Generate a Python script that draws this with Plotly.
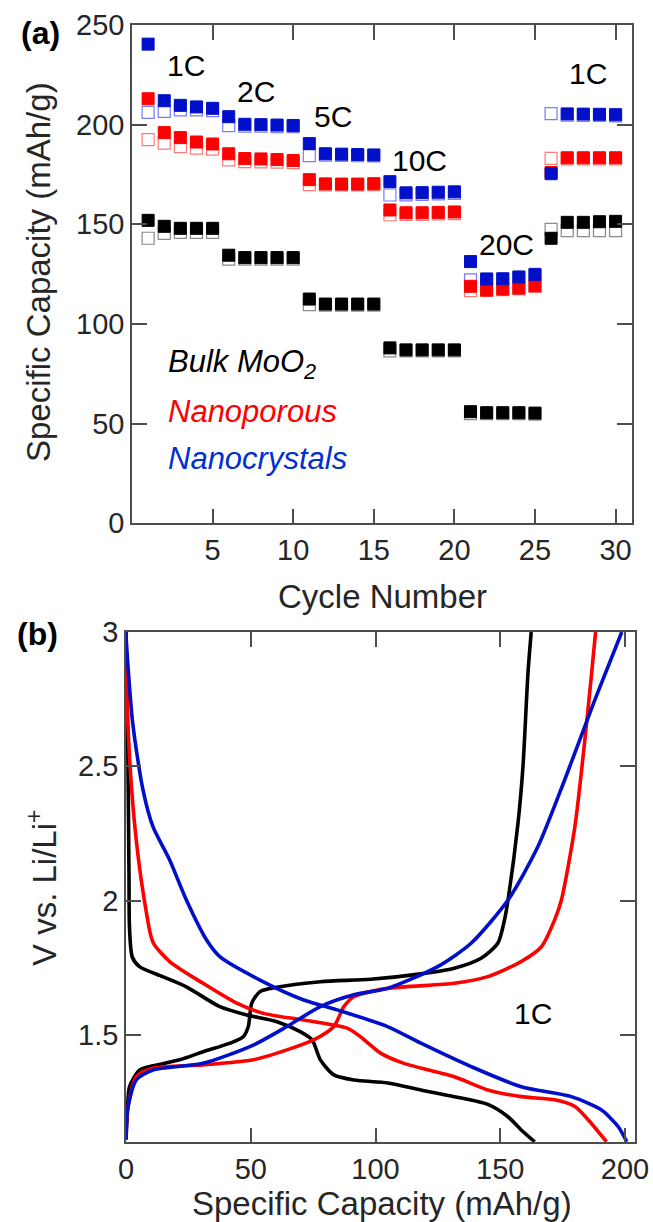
import plotly.graph_objects as go

W, H = 653, 1222

# ---------------- Panel (a) data: rate capability ----------------
cycles = list(range(1, 31))
bulk_filled = [152, 149, 148, 148, 148, 134.5, 133.3, 133.3, 133.3, 133.3,
               112.5, 110, 110, 110, 110, 88, 87, 87, 87, 87,
               56, 55.5, 55.5, 55.5, 55.3, 143, 151, 151, 151.3, 151.5]
bulk_open = [143, 145.5, 146, 146, 146, 132.5, 132.5, 132.5, 132.5, 132.5,
             109.7, 109.5, 109.5, 109.5, 109.5, 86.5, 86.5, 86.5, 86.5, 86.5,
             55, 55, 55, 55, 54.8, 147.5, 146.8, 146.8, 146.8, 146.8]
nanoporous_filled = [213, 196, 193.5, 191.3, 190.3, 185.4, 183, 182.8, 182.5, 182,
                     172.4, 170.3, 170.2, 170.2, 170.4, 157.2, 155.8, 155.8, 156, 156.2,
                     118.9, 117, 117.5, 118, 119.2, 176, 183.4, 183.4, 183.4, 183.4]
nanoporous_open = [192.5, 190.7, 189, 188.2, 187.7, 182.3, 181.5, 181.3, 181.2, 181,
                   169.9, 169.8, 169.8, 169.8, 169.9, 154.8, 155, 155, 155.2, 155.4,
                   116.7, 116.8, 117.2, 117.7, 118.9, 183.1, 182.8, 182.8, 182.8, 182.8]
nanocrystals_filled = [240.4, 212, 209.7, 208.9, 208.2, 204, 200.2, 200, 199.8, 199.6,
                       190.5, 185.4, 185.2, 185, 184.8, 171.4, 165.8, 165.9, 166.1, 166.3,
                       131.3, 122.6, 122.7, 123.6, 124.9, 175.4, 205.4, 205.3, 205.2, 205]
nanocrystals_open = [206.2, 206.7, 207.4, 207.4, 207, 199.5, 199.3, 199.2, 199, 199,
                     184.5, 184.7, 184.6, 184.4, 184.3, 164.7, 164.8, 165, 165.3, 165.5,
                     122.1, 122, 122.2, 123, 124.3, 205.5, 204.8, 204.6, 204.6, 204.4]

rate_labels = ["1C", "2C", "5C", "10C", "20C", "1C"]
series_names = ["Bulk MoO<sub>2</sub>", "Nanoporous", "Nanocrystals"]

# ---------------- Panel (b) data: voltage profiles at 1C ----------------
bulk_dis_cap = [0, 0.5, 0.9, 1.2, 1.4, 2.5, 5.4, 14.7, 24.2, 37.6, 48.4, 60.5, 69.8, 74.6,
                77.9, 83.3, 91.3, 104.8, 118.2, 131.6, 145, 153.1, 158.4, 163.8]
bulk_dis_v = [3.0, 2.75, 2.4, 2.1, 1.9, 1.79, 1.754, 1.717, 1.679, 1.605, 1.574, 1.549, 1.512, 1.481,
              1.407, 1.351, 1.332, 1.321, 1.295, 1.270, 1.241, 1.195, 1.146, 1.102]
bulk_chg_cap = [0, 0.5, 1.4, 5.4, 10.8, 21.5, 30.9, 41.7, 47, 49, 50.4, 53.7, 60.5, 77.9,
                98, 118.2, 131.6, 142.3, 149, 151.7, 153.1, 157.1, 159.1, 161.1, 162.4]
bulk_chg_v = [1.11, 1.2, 1.307, 1.369, 1.385, 1.407, 1.437, 1.469, 1.493, 1.530, 1.618, 1.661, 1.677, 1.698,
              1.707, 1.727, 1.748, 1.785, 1.841, 1.928, 2.002, 2.288, 2.499, 2.846, 3.0]

nano_p_dis_cap = [0, 0.1, 1.4, 4.1, 8.1, 10.8, 17.5, 30.9, 44.4, 55.1, 71.2, 88.6, 94, 102,
                  111.4, 131.6, 145, 158.4, 171.8, 179.9, 185.3, 192.6]
nano_p_dis_v = [3.0, 2.87, 2.536, 2.226, 1.96, 1.845, 1.773, 1.692, 1.618, 1.580, 1.555, 1.525, 1.493, 1.432,
                1.394, 1.344, 1.295, 1.270, 1.258, 1.233, 1.183, 1.102]
nano_p_chg_cap = [0, 0.6, 4.1, 10.8, 30.9, 51, 64.5, 75.2, 83.3, 87.3, 91.3, 104.8, 131.6, 145,
                  158.4, 166.5, 171.8, 174.5, 179.9, 183.9, 186.6, 188.2]
nano_p_chg_v = [1.11, 1.22, 1.344, 1.376, 1.388, 1.407, 1.444, 1.481, 1.531, 1.605, 1.642, 1.673, 1.692, 1.717,
                1.773, 1.828, 1.928, 2.002, 2.275, 2.598, 2.846, 3.0]

nano_c_dis_cap = [0, 0.1, 2.7, 6.8, 10.8, 17.5, 24.2, 32.3, 37.6, 53.7, 71.2, 84.6, 104.8, 118.2,
                  138.3, 158.4, 178.5, 190.6, 197.3, 200.7]
nano_c_dis_v = [3.0, 2.97, 2.66, 2.412, 2.275, 2.151, 2.002, 1.853, 1.791, 1.704, 1.630, 1.593, 1.531, 1.469,
                1.382, 1.307, 1.270, 1.220, 1.158, 1.102]
nano_c_chg_cap = [0, 0.6, 4.1, 10.8, 30.9, 51, 64.5, 77.9, 91.3, 104.8, 124.9, 138.3, 153.1, 165.1,
                  175.8, 187.9, 198.7]
nano_c_chg_v = [1.11, 1.22, 1.332, 1.369, 1.394, 1.462, 1.531, 1.605, 1.649, 1.673, 1.754, 1.841, 2.002, 2.201,
                2.449, 2.747, 3.0]

# ---------------- styling ----------------
BLACK = "#000000"
RED = "#ff0000"
BLUE = "#0010c8"
BLUE_TXT = "#0030d0"
FONT = "Liberation Sans"
AXC = "#4d4d4d"
TICKC = "#262626"


def px(x):
    return x / W


def py(y):
    return 1 - y / H


fig = go.Figure()

open_edges = ["#8a8a8a", "#ff7a7a", "#7a7aff"]
colors = [BLACK, RED, BLUE]
opens = [bulk_open, nanoporous_open, nanocrystals_open]
filleds = [bulk_filled, nanoporous_filled, nanocrystals_filled]

for vals, edge in zip(opens, open_edges):
    fig.add_trace(go.Scatter(x=cycles, y=vals, mode="markers", xaxis="x", yaxis="y",
                             marker=dict(symbol="square", size=12, color="white",
                                         line=dict(color=edge, width=1.2)),
                             showlegend=False, cliponaxis=False))
for vals, c in zip(filleds, colors):
    fig.add_trace(go.Scatter(x=cycles, y=vals, mode="markers", xaxis="x", yaxis="y",
                             marker=dict(symbol="square", size=12, color=c,
                                         line=dict(color=c, width=1)),
                             showlegend=False, cliponaxis=False))

curves = [
    (bulk_dis_cap, bulk_dis_v, BLACK), (bulk_chg_cap, bulk_chg_v, BLACK),
    (nano_p_dis_cap, nano_p_dis_v, RED), (nano_p_chg_cap, nano_p_chg_v, RED),
    (nano_c_dis_cap, nano_c_dis_v, BLUE), (nano_c_chg_cap, nano_c_chg_v, BLUE),
]
for xs, ys, c in curves:
    fig.add_trace(go.Scatter(x=xs, y=ys, mode="lines", xaxis="x2", yaxis="y2",
                             line=dict(color=c, width=3.6, shape="spline", smoothing=0.7),
                             showlegend=False))

axis_common = dict(showline=True, linecolor=AXC, linewidth=1.5, mirror="ticks",
                   ticks="inside", ticklen=15, tickwidth=1.5, tickcolor=AXC,
                   showgrid=False, zeroline=False, automargin=False,
                   tickfont=dict(family=FONT, size=29, color=TICKC))

fig.update_layout(
    width=W, height=H, paper_bgcolor="white", plot_bgcolor="white",
    margin=dict(l=0, r=0, t=0, b=0, pad=0),
    xaxis=dict(domain=[px(132), px(631.7)], range=[0, 31], tickvals=[5, 10, 15, 20, 25, 30],
               anchor="y", **axis_common),
    yaxis=dict(domain=[py(523.3), py(25)], range=[0, 250], tickvals=[0, 50, 100, 150, 200, 250],
               anchor="x", **axis_common),
    xaxis2=dict(domain=[px(126), px(635)], range=[0, 204], tickvals=[0, 50, 100, 150, 200],
                anchor="y2", **axis_common),
    yaxis2=dict(domain=[py(1142.3), py(632)], range=[1.1, 3], tickvals=[1.5, 2, 2.5, 3],
                ticktext=["1.5", "2", "2.5", "3"], anchor="x2", **axis_common),
)

ann = []


def add_text(text, x, y, size, color=BLACK, xanchor="center", angle=0):
    ann.append(dict(text=text, x=px(x), y=py(y), xref="paper", yref="paper",
                    xanchor=xanchor, yanchor="middle", showarrow=False, textangle=angle,
                    font=dict(family=FONT, size=size, color=color)))


# panel labels
add_text("<b>(a)</b>", 40, 33, 32)
add_text("<b>(b)</b>", 37, 634, 32)

# axis titles
add_text("Cycle Number", 382, 596, 33, color=TICKC)
add_text("Specific Capacity (mAh/g)", 38, 272, 33, color=TICKC, angle=-90)
add_text("Specific Capacity (mAh/g)", 382, 1203, 33, color=TICKC)
add_text("V vs. Li/Li<sup>+</sup>", 42, 888, 33, color=TICKC, angle=-90)

# rate labels (panel a)
rate_pos = [(186, 65), (256, 92), (333, 117), (419, 160), (506, 244), (588, 73)]
for t, (x, y) in zip(rate_labels, rate_pos):
    add_text(t, x, y, 30)
add_text("1C", 533, 1013, 30)

# series labels
add_text("<i>" + series_names[0] + "</i>", 166, 364, 31, color=BLACK, xanchor="left")
add_text("<i>" + series_names[1] + "</i>", 166, 411, 31, color=RED, xanchor="left")
add_text("<i>" + series_names[2] + "</i>", 166, 459, 31, color=BLUE_TXT, xanchor="left")

fig.update_layout(annotations=ann)
fig.write_html("out.html")
